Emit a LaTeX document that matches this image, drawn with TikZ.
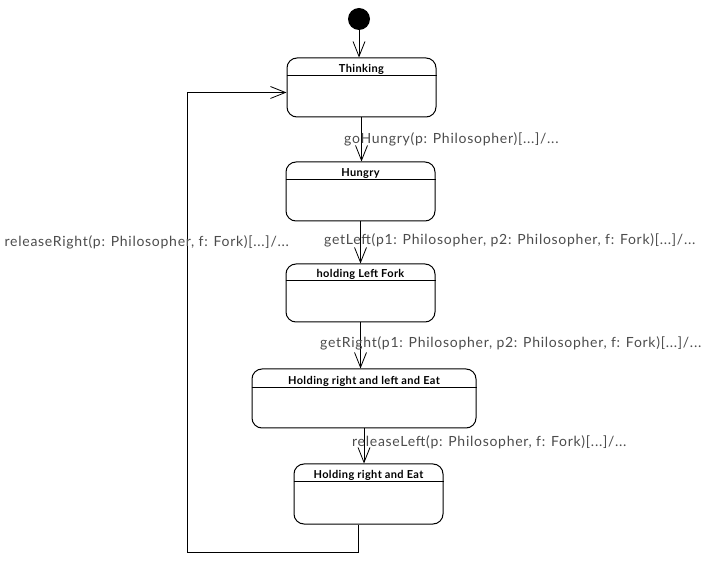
\documentclass[tikz,border=0pt]{standalone}
\usepackage{fontspec}
\setmainfont{Lato}
\newfontfamily\labfont[LetterSpace=5.2]{Lato}
\newfontfamily\titfont[LetterSpace=3.5]{Lato}
\usetikzlibrary{arrows.meta,calc}
\begin{document}
\begin{tikzpicture}[x=1pt,y=-1pt,
  statebox/.style={draw, line width=1pt, rounded corners=10pt, inner sep=0pt},
  stitle/.style={anchor=base, inner sep=0pt, font=\titfont\fontsize{11}{13}\selectfont\bfseries},
  tr/.style={draw, line width=0.8pt, -{Straight Barb[length=15pt,width=12pt,line width=0.8pt]}},
  lab/.style={anchor=base west, inner sep=0pt, text=black!70, font=\labfont\fontsize{14}{16}\selectfont}]
\useasboundingbox (0,0) rectangle (716,572);
\node[circle, fill=black, minimum size=22pt, inner sep=0pt] (init) at (359,19) {};
\node[statebox, minimum width=149pt, minimum height=59pt] (think) at (361.5,87.5) {};
\node[statebox, minimum width=149pt, minimum height=59pt] (hungry) at (360.5,191.5) {};
\node[statebox, minimum width=149pt, minimum height=58pt] (hlf) at (360.5,293) {};
\node[statebox, minimum width=224pt, minimum height=59pt] (hrle) at (364,398.5) {};
\node[statebox, minimum width=149pt, minimum height=60pt] (hre) at (368.5,494) {};
\foreach \n/\h in {think/18, hungry/18, hlf/17, hrle/19, hre/18}{
  \draw[line width=1pt] ($(\n.north west)+(0,\h)$) -- ($(\n.north east)+(0,\h)$);
}
\node[stitle] (t1) at ($(think.north)+(0,15)$) {Thinking};
\node[stitle] (t2) at ($(hungry.north)+(0,15)$) {Hungry};
\node[stitle] (t3) at ($(hlf.north)+(0,14)$) {holding Left Fork};
\node[stitle] (t4) at ($(hrle.north)+(0,16)$) {Holding right and left and Eat};
\node[stitle] (t5) at ($(hre.north)+(0,15)$) {Holding right and Eat};
\coordinate (c1) at (187,552);
\draw[tr] (init.south) -- (init.south |- think.north);
\draw[tr] (think.south) -- (think.south |- hungry.north);
\draw[tr] (hungry.south) -- (hungry.south |- hlf.north);
\draw[tr] (hlf.south) -- (hlf.south |- hrle.north);
\draw[tr] ([xshift=-4.5pt]hre.north |- hrle.south) -- ([xshift=-4.5pt]hre.north);
\draw[tr] ([xshift=-10pt]hre.south) |- (c1) |- ([yshift=-5pt]think.west);
\node[lab] (l1) at (344,144) {goHungry(p: Philosopher)[...]/...};
\node[lab] (l2) at (324,245) {getLeft(p1: Philosopher, p2: Philosopher, f: Fork)[...]/...};
\node[lab] (l3) at (320,348) {getRight(p1: Philosopher, p2: Philosopher, f: Fork)[...]/...};
\node[lab] (l4) at (352,447) {releaseLeft(p: Philosopher, f: Fork)[...]/...};
\node[lab] (l5) at (4.5,247) {releaseRight(p: Philosopher, f: Fork)[...]/...};
\end{tikzpicture}
\end{document}
